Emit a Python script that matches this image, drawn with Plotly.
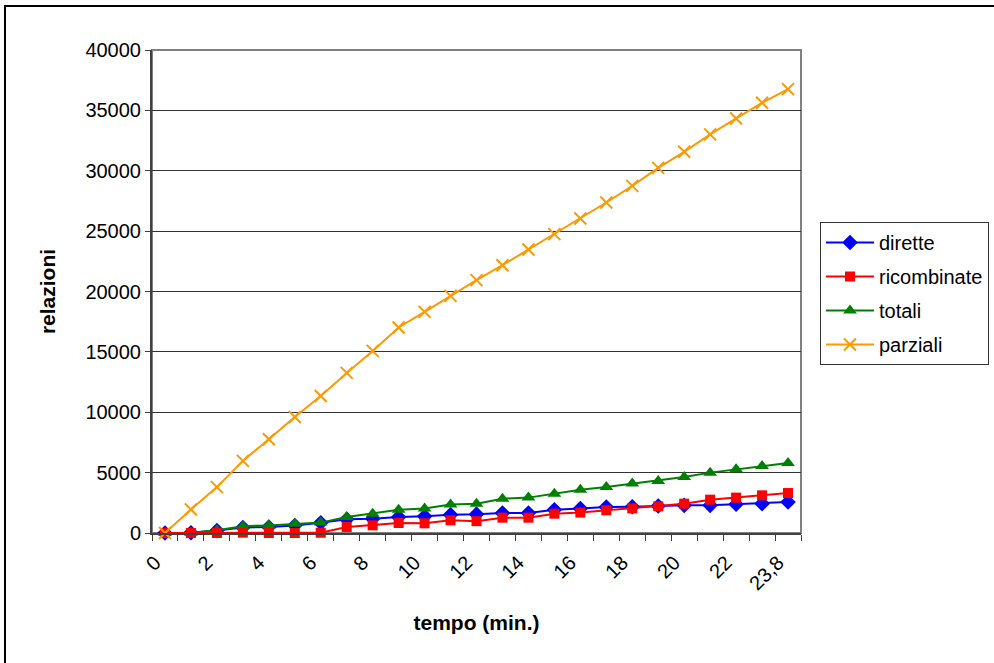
import plotly.graph_objects as go

# Time categories (minutes)
tempo = ["0", "1", "2", "3", "4", "5", "6", "7", "8", "9", "10", "11", "12",
         "13", "14", "15", "16", "17", "18", "19", "20", "21", "22", "23", "23,8"]

dirette = [0, 20, 200, 450, 500, 620, 850, 1130, 1190, 1330, 1380, 1520, 1560,
           1660, 1660, 1930, 2020, 2150, 2180, 2240, 2290, 2290, 2380, 2430, 2570]
ricombinate = [0, 0, 0, 30, 0, 0, 20, 500, 635, 830, 800, 1050, 980,
               1270, 1270, 1600, 1690, 1880, 2040, 2210, 2430, 2760, 2930, 3120, 3310]
totali = [0, 30, 220, 560, 630, 770, 860, 1330, 1600, 1930, 2020, 2350, 2430,
          2845, 2930, 3260, 3590, 3810, 4090, 4310, 4640, 5000, 5280, 5550, 5800]
parziali = [0, 1950, 3800, 5970, 7770, 9610, 11350, 13260, 15080, 17020, 18310, 19640, 20940,
            22180, 23480, 24750, 26050, 27370, 28750, 30240, 31570, 33010, 34330, 35630, 36760]

y_ticks = [0, 5000, 10000, 15000, 20000, 25000, 30000, 35000, 40000]

FONT = "Liberation Sans, Arial, sans-serif"
W, H = 994, 663
ML, MR, MT, MB = 152, 193, 50, 130

pos = list(range(len(tempo)))
label_pos = pos[::2]
label_txt = tempo[::2]

fig = go.Figure()

series = [
    # name, values, color, symbol, size, legend rank
    ("dirette", dirette, "#0000FF", "diamond", 12, 1),
    ("totali", totali, "#008000", "triangle-up", 12, 3),
    ("ricombinate", ricombinate, "#FF0000", "square", 10, 2),
    ("parziali", parziali, "#FF9900", "x-thin-open", 12, 4),
]
for name, vals, color, sym, size, rank in series:
    marker = dict(symbol=sym, size=size, color=color)
    if sym == "x-thin-open":
        marker["line"] = dict(color=color, width=2)
    else:
        marker["line"] = dict(width=0)
    fig.add_trace(go.Scatter(
        x=pos, y=vals, name=name, mode="lines+markers",
        line=dict(color=color, width=2), marker=marker,
        legendrank=rank, legendgroup=name, cliponaxis=False,
    ))

# Outer chart frame (left and top edges visible, rest runs off the page)
pw, ph = W - ML - MR, H - MT - MB
def px_to_paper_x(px):
    return (px - ML) / pw
def px_to_paper_y(py):
    return (H - MB - py) / ph

fig.add_shape(type="rect", xref="paper", yref="paper",
              x0=px_to_paper_x(5), x1=px_to_paper_x(W + 10),
              y0=px_to_paper_y(H + 10), y1=px_to_paper_y(6),
              line=dict(color="black", width=2), fillcolor="rgba(0,0,0,0)",
              layer="below")
# Plot-area border (top and right in gray)
fig.add_shape(type="rect", xref="paper", yref="paper", x0=0, x1=1, y0=0, y1=1,
              line=dict(color="#808080", width=2), fillcolor="rgba(0,0,0,0)",
              layer="below")

fig.update_layout(
    width=W, height=H,
    margin=dict(l=ML, r=MR, t=MT, b=MB, autoexpand=False),
    paper_bgcolor="white", plot_bgcolor="white",
    font=dict(family=FONT, size=20, color="black"),
    showlegend=True,
    legend=dict(
        x=px_to_paper_x(820), y=px_to_paper_y(222), xanchor="left", yanchor="top",
        bordercolor="#333333", borderwidth=1, bgcolor="white",
        font=dict(family=FONT, size=20, color="black"),
        itemwidth=48, tracegroupgap=5,
    ),
    xaxis=dict(
        range=[-0.5, len(tempo) - 0.5],
        tickmode="array", tickvals=label_pos, ticktext=label_txt,
        tickangle=-45, ticks="", showgrid=False, zeroline=False,
        showline=True, linecolor="#404040", linewidth=2,
        tickfont=dict(family=FONT, size=20, color="black"),
        ticklabelstandoff=8, ticklabelshift=-10,
        minor=dict(tickmode="linear", tick0=-0.5, dtick=1, ticks="outside",
                   ticklen=6, tickwidth=1, tickcolor="#404040", showgrid=False),
        title=dict(text="<b>tempo (min.)</b>", font=dict(family=FONT, size=21),
                   standoff=22),
        automargin=False,
    ),
    yaxis=dict(
        range=[0, 40000], tickmode="array", tickvals=y_ticks,
        ticktext=[str(v) for v in y_ticks],
        ticks="outside", ticklen=5, tickcolor="#404040", tickwidth=1,
        showgrid=True, gridcolor="#333333", gridwidth=1, zeroline=False,
        showline=True, linecolor="#404040", linewidth=2,
        tickfont=dict(family=FONT, size=20, color="black"),
        title=dict(text="<b>relazioni</b>", font=dict(family=FONT, size=21),
                   standoff=24),
        automargin=False,
    ),
)

fig.write_html("out.html")
